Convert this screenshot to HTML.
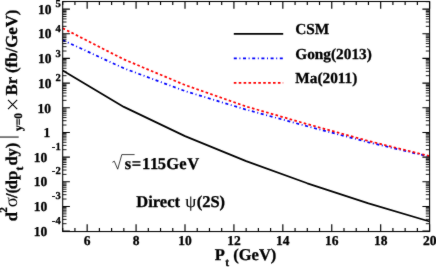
<!DOCTYPE html><html><head><meta charset="utf-8"><style>html,body{margin:0;padding:0;background:#fff}svg{display:block;filter:url(#bl)}text{text-rendering:geometricPrecision;font-family:"Liberation Serif",serif;font-weight:bold;fill:#000;stroke:#000;stroke-width:0.3px}</style></head><body>
<svg width="436" height="267" viewBox="0 0 436 267">
<filter id="bl" x="0" y="0" width="100%" height="100%" color-interpolation-filters="sRGB"><feConvolveMatrix order="3" kernelMatrix="1 3 1 3 40 3 1 3 1" divisor="56" edgeMode="duplicate" preserveAlpha="true"/></filter>
<rect width="436" height="267" fill="#fff"/>
<clipPath id="c"><rect x="62.70" y="1.50" width="367.50" height="230.05"/></clipPath>
<g clip-path="url(#c)" fill="none">
<path d="M62.70 40.09 L123.85 68.31 L185.00 91.06 L246.15 109.66 L307.30 126.27 L368.45 142.29 L429.60 156.70" stroke="#0000ff" stroke-width="1.75" stroke-dasharray="3.0 2.6 1.0 2.6"/>
<path d="M62.70 28.20 L123.85 59.38 L185.00 85.00 L246.15 106.47 L307.30 124.15 L368.45 140.98 L429.60 156.13" stroke="#ff0000" stroke-width="1.75" stroke-dasharray="2.6 2.3"/>
<path d="M62.70 70.50 L123.85 106.90 L185.00 136.10 L246.15 161.10 L307.30 183.30 L368.45 203.40 L429.60 221.50" stroke="#000" stroke-width="1.75" stroke-linejoin="round"/>
</g>
<rect x="62.70" y="1.50" width="366.90" height="230.05" fill="none" stroke="#000" stroke-width="1.05"/>
<path d="M62.70 231.13 h7.20 M429.60 231.13 h-7.20 M62.70 206.46 h7.20 M429.60 206.46 h-7.20 M62.70 181.79 h7.20 M429.60 181.79 h-7.20 M62.70 157.12 h7.20 M429.60 157.12 h-7.20 M62.70 132.45 h7.20 M429.60 132.45 h-7.20 M62.70 107.78 h7.20 M429.60 107.78 h-7.20 M62.70 83.11 h7.20 M429.60 83.11 h-7.20 M62.70 58.44 h7.20 M429.60 58.44 h-7.20 M62.70 33.77 h7.20 M429.60 33.77 h-7.20 M62.70 9.10 h7.20 M429.60 9.10 h-7.20 M62.70 231.55 v-3.60 M62.70 1.50 v3.60 M74.93 231.55 v-3.60 M74.93 1.50 v3.60 M87.16 231.55 v-7.20 M87.16 1.50 v7.20 M99.39 231.55 v-3.60 M99.39 1.50 v3.60 M111.62 231.55 v-3.60 M111.62 1.50 v3.60 M123.85 231.55 v-3.60 M123.85 1.50 v3.60 M136.08 231.55 v-7.20 M136.08 1.50 v7.20 M148.31 231.55 v-3.60 M148.31 1.50 v3.60 M160.54 231.55 v-3.60 M160.54 1.50 v3.60 M172.77 231.55 v-3.60 M172.77 1.50 v3.60 M185.00 231.55 v-7.20 M185.00 1.50 v7.20 M197.23 231.55 v-3.60 M197.23 1.50 v3.60 M209.46 231.55 v-3.60 M209.46 1.50 v3.60 M221.69 231.55 v-3.60 M221.69 1.50 v3.60 M233.92 231.55 v-7.20 M233.92 1.50 v7.20 M246.15 231.55 v-3.60 M246.15 1.50 v3.60 M258.38 231.55 v-3.60 M258.38 1.50 v3.60 M270.61 231.55 v-3.60 M270.61 1.50 v3.60 M282.84 231.55 v-7.20 M282.84 1.50 v7.20 M295.07 231.55 v-3.60 M295.07 1.50 v3.60 M307.30 231.55 v-3.60 M307.30 1.50 v3.60 M319.53 231.55 v-3.60 M319.53 1.50 v3.60 M331.76 231.55 v-7.20 M331.76 1.50 v7.20 M343.99 231.55 v-3.60 M343.99 1.50 v3.60 M356.22 231.55 v-3.60 M356.22 1.50 v3.60 M368.45 231.55 v-3.60 M368.45 1.50 v3.60 M380.68 231.55 v-7.20 M380.68 1.50 v7.20 M392.91 231.55 v-3.60 M392.91 1.50 v3.60 M405.14 231.55 v-3.60 M405.14 1.50 v3.60 M417.37 231.55 v-3.60 M417.37 1.50 v3.60 M429.60 231.55 v-7.20 M429.60 1.50 v7.20" stroke="#000" stroke-width="1.15" fill="none"/>
<path d="M62.70 223.70 h3.80 M429.60 223.70 h-3.80 M62.70 219.36 h3.80 M429.60 219.36 h-3.80 M62.70 216.28 h3.80 M429.60 216.28 h-3.80 M62.70 213.89 h3.80 M429.60 213.89 h-3.80 M62.70 211.93 h3.80 M429.60 211.93 h-3.80 M62.70 210.28 h3.80 M429.60 210.28 h-3.80 M62.70 208.85 h3.80 M429.60 208.85 h-3.80 M62.70 207.59 h3.80 M429.60 207.59 h-3.80 M62.70 199.03 h3.80 M429.60 199.03 h-3.80 M62.70 194.69 h3.80 M429.60 194.69 h-3.80 M62.70 191.61 h3.80 M429.60 191.61 h-3.80 M62.70 189.22 h3.80 M429.60 189.22 h-3.80 M62.70 187.26 h3.80 M429.60 187.26 h-3.80 M62.70 185.61 h3.80 M429.60 185.61 h-3.80 M62.70 184.18 h3.80 M429.60 184.18 h-3.80 M62.70 182.92 h3.80 M429.60 182.92 h-3.80 M62.70 174.36 h3.80 M429.60 174.36 h-3.80 M62.70 170.02 h3.80 M429.60 170.02 h-3.80 M62.70 166.94 h3.80 M429.60 166.94 h-3.80 M62.70 164.55 h3.80 M429.60 164.55 h-3.80 M62.70 162.59 h3.80 M429.60 162.59 h-3.80 M62.70 160.94 h3.80 M429.60 160.94 h-3.80 M62.70 159.51 h3.80 M429.60 159.51 h-3.80 M62.70 158.25 h3.80 M429.60 158.25 h-3.80 M62.70 149.69 h3.80 M429.60 149.69 h-3.80 M62.70 145.35 h3.80 M429.60 145.35 h-3.80 M62.70 142.27 h3.80 M429.60 142.27 h-3.80 M62.70 139.88 h3.80 M429.60 139.88 h-3.80 M62.70 137.92 h3.80 M429.60 137.92 h-3.80 M62.70 136.27 h3.80 M429.60 136.27 h-3.80 M62.70 134.84 h3.80 M429.60 134.84 h-3.80 M62.70 133.58 h3.80 M429.60 133.58 h-3.80 M62.70 125.02 h3.80 M429.60 125.02 h-3.80 M62.70 120.68 h3.80 M429.60 120.68 h-3.80 M62.70 117.60 h3.80 M429.60 117.60 h-3.80 M62.70 115.21 h3.80 M429.60 115.21 h-3.80 M62.70 113.25 h3.80 M429.60 113.25 h-3.80 M62.70 111.60 h3.80 M429.60 111.60 h-3.80 M62.70 110.17 h3.80 M429.60 110.17 h-3.80 M62.70 108.91 h3.80 M429.60 108.91 h-3.80 M62.70 100.35 h3.80 M429.60 100.35 h-3.80 M62.70 96.01 h3.80 M429.60 96.01 h-3.80 M62.70 92.93 h3.80 M429.60 92.93 h-3.80 M62.70 90.54 h3.80 M429.60 90.54 h-3.80 M62.70 88.58 h3.80 M429.60 88.58 h-3.80 M62.70 86.93 h3.80 M429.60 86.93 h-3.80 M62.70 85.50 h3.80 M429.60 85.50 h-3.80 M62.70 84.24 h3.80 M429.60 84.24 h-3.80 M62.70 75.68 h3.80 M429.60 75.68 h-3.80 M62.70 71.34 h3.80 M429.60 71.34 h-3.80 M62.70 68.26 h3.80 M429.60 68.26 h-3.80 M62.70 65.87 h3.80 M429.60 65.87 h-3.80 M62.70 63.91 h3.80 M429.60 63.91 h-3.80 M62.70 62.26 h3.80 M429.60 62.26 h-3.80 M62.70 60.83 h3.80 M429.60 60.83 h-3.80 M62.70 59.57 h3.80 M429.60 59.57 h-3.80 M62.70 51.01 h3.80 M429.60 51.01 h-3.80 M62.70 46.67 h3.80 M429.60 46.67 h-3.80 M62.70 43.59 h3.80 M429.60 43.59 h-3.80 M62.70 41.20 h3.80 M429.60 41.20 h-3.80 M62.70 39.24 h3.80 M429.60 39.24 h-3.80 M62.70 37.59 h3.80 M429.60 37.59 h-3.80 M62.70 36.16 h3.80 M429.60 36.16 h-3.80 M62.70 34.90 h3.80 M429.60 34.90 h-3.80 M62.70 26.34 h3.80 M429.60 26.34 h-3.80 M62.70 22.00 h3.80 M429.60 22.00 h-3.80 M62.70 18.92 h3.80 M429.60 18.92 h-3.80 M62.70 16.53 h3.80 M429.60 16.53 h-3.80 M62.70 14.57 h3.80 M429.60 14.57 h-3.80 M62.70 12.92 h3.80 M429.60 12.92 h-3.80 M62.70 11.49 h3.80 M429.60 11.49 h-3.80 M62.70 10.23 h3.80 M429.60 10.23 h-3.80 M62.70 1.67 h3.80 M429.60 1.67 h-3.80" stroke="#000" stroke-width="0.9" fill="none"/>
<text x="60.7" y="223.83" font-size="10.6" text-anchor="end">-4</text>
<text x="47.2" y="235.73" font-size="13.5" text-anchor="end">10</text>
<text x="60.7" y="199.16" font-size="10.6" text-anchor="end">-3</text>
<text x="47.2" y="211.06" font-size="13.5" text-anchor="end">10</text>
<text x="60.7" y="174.49" font-size="10.6" text-anchor="end">-2</text>
<text x="47.2" y="186.39" font-size="13.5" text-anchor="end">10</text>
<text x="60.7" y="149.82" font-size="10.6" text-anchor="end">-1</text>
<text x="47.2" y="161.72" font-size="13.5" text-anchor="end">10</text>
<text x="50.3" y="137.05" font-size="13.5" text-anchor="end">1</text>
<text x="50.9" y="112.68" font-size="13.5" text-anchor="end">10</text>
<text x="60.9" y="81.31" font-size="10.6" text-anchor="end">2</text>
<text x="51.6" y="87.71" font-size="13.5" text-anchor="end">10</text>
<text x="60.9" y="56.64" font-size="10.6" text-anchor="end">3</text>
<text x="51.6" y="63.04" font-size="13.5" text-anchor="end">10</text>
<text x="60.9" y="31.97" font-size="10.6" text-anchor="end">4</text>
<text x="51.6" y="38.37" font-size="13.5" text-anchor="end">10</text>
<text x="60.9" y="7.30" font-size="10.6" text-anchor="end">5</text>
<text x="51.6" y="13.70" font-size="13.5" text-anchor="end">10</text>
<text x="87.16" y="245" font-size="13.5" text-anchor="middle">6</text>
<text x="136.08" y="245" font-size="13.5" text-anchor="middle">8</text>
<text x="185.00" y="245" font-size="13.5" text-anchor="middle">10</text>
<text x="233.92" y="245" font-size="13.5" text-anchor="middle">12</text>
<text x="282.84" y="245" font-size="13.5" text-anchor="middle">14</text>
<text x="331.76" y="245" font-size="13.5" text-anchor="middle">16</text>
<text x="380.68" y="245" font-size="13.5" text-anchor="middle">18</text>
<text x="436.50" y="245" font-size="13.5" text-anchor="end">20</text>
<text id="xt" x="214.8" y="260.4" font-size="16.5">P<tspan dy="5.3" dx="0.4" font-size="11.5">t</tspan><tspan dy="-5.3"> (GeV)</tspan></text>
<g transform="translate(17.2,221.0) rotate(-90)"><text x="-0.3" y="0" font-size="16.5">d</text><text x="8.2" y="-10.4" font-size="11.2">2</text><text x="13.8" y="0" font-size="18.5" style="font-weight:normal;stroke-width:0">σ</text><text x="22.9" y="0" font-size="16.5">/(<tspan dx="-1.2">dp</tspan><tspan dy="5.3" dx="0.3" font-size="11.5">t</tspan><tspan dy="-5.3" dx="1.1">dy)</tspan></text><path d="M83.95 -17.2 V1.5" stroke="#000" stroke-width="1" fill="none"/><text x="89.9" y="4.7" font-size="11.5">y=0</text><path d="M111.9 -9.2 L121.1 0 M111.9 0 L121.1 -9.2" stroke="#000" stroke-width="1.1" fill="none"/><text x="125.5" y="0" font-size="16.8">Br (fb/GeV)</text></g>
<path d="M233.8 33.8 H283.2" stroke="#000" stroke-width="1.8"/>
<path d="M233.8 58.4 H283.2" stroke="#0000ff" stroke-width="1.8" stroke-dasharray="3.0 2.6 1.0 2.6"/>
<path d="M233.8 82.9 H283.2" stroke="#ff0000" stroke-width="1.8" stroke-dasharray="2.6 2.3"/>
<text x="295.3" y="33.9" font-size="15.3">CSM</text>
<text x="295.3" y="58.5" font-size="15.3">Gong(2013)</text>
<text x="295.3" y="82.5" font-size="15.3">Ma(2011)</text>
<path d="M112.4 162.3 L114.3 161.2 L117.7 169.2 L121.8 154.6 H134.6" stroke="#000" stroke-width="0.75" fill="none"/>
<text x="124.8 131.8 141.9 149.9 157.8 166.2 179.2 187.2" y="169.4" font-size="16.5">s=115GeV</text>
<text x="136.3" y="206.7" font-size="16.5">Direct</text><text x="185.2" y="206.7" font-size="17.5" style="font-weight:normal;stroke-width:0.1px">ψ</text><text x="196.7" y="206.7" font-size="16.5">(2S)</text>
</svg></body></html>
